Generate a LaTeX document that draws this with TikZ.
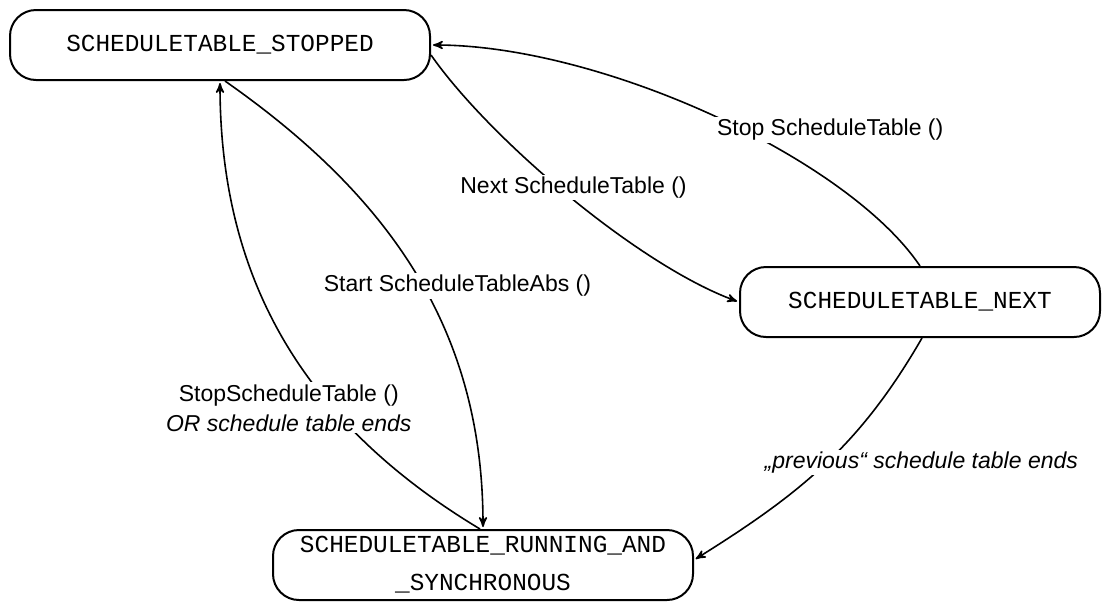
\documentclass[tikz,border=0pt]{standalone}
\usepackage{fontspec}
\setmainfont{Liberation Sans}
\newfontfamily\statefont{Liberation Mono}
\usepackage{tikz}
\usetikzlibrary{arrows}

\begin{document}
\begin{tikzpicture}[x=0.5pt,y=-0.5pt,->,>=stealth',shorten >=1pt,thick,
	state node/.style={rectangle,rounded corners=13pt,draw,line width=1pt,minimum width=210pt,minimum height=35pt,inner ysep=0pt,align=center,font=\statefont\fontsize{12.2}{19}\selectfont},
	trans label/.style={fill=white,inner sep=1pt,align=center,font=\fontsize{11.5}{15}\selectfont}]

		\useasboundingbox (0,0) rectangle (1103,601);

		\node[state node] (stopped) at (220,45) {SCHEDULETABLE\_STOPPED};
		\node[state node, minimum width=180pt] (next) at (920,302) {SCHEDULETABLE\_NEXT};
		\node[state node] (running) at (483,565) {SCHEDULETABLE\_RUNNING\_AND\\\_SYNCHRONOUS};

		\path[every node/.style={trans label}]
		(next.north) edge[out=124,in=0,out distance=65pt,in distance=85pt] node[pos=0.45,xshift=45.5pt,yshift=-1pt] {Stop ScheduleTable ()} (stopped.east)
		([yshift=-5pt]stopped.east) edge[out=-55,in=160,out distance=52pt,in distance=53pt] node[pos=0.5,xshift=1.75pt,yshift=4.75pt] {Next ScheduleTable ()} (next.west)
		([xshift=-1.5pt]running.north) edge[out=149,in=-90,distance=101pt] node[pos=0.33,xshift=-24pt,yshift=2.5pt] {StopScheduleTable ()\\\textit{OR schedule table ends}} (stopped.south)
		([xshift=2.5pt]stopped.south) edge[out=-35,in=90,distance=100pt] node[pos=0.5,xshift=21pt,yshift=-6.5pt] {Start ScheduleTableAbs ()} (running.north)
		([xshift=1pt]next.south) edge[out=-120,in=32,distance=62.5pt] node[pos=0.5,xshift=48.5pt,yshift=1pt] {\textit{„previous“ schedule table ends}} ([yshift=2.5pt]running.east);
\end{tikzpicture}
\end{document}
